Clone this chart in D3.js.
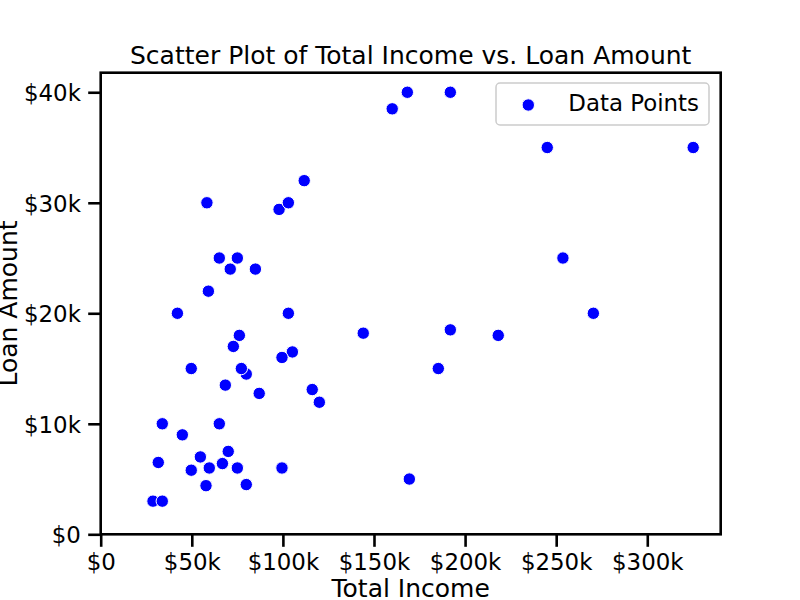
<!DOCTYPE html>
<html>
<head>
<meta charset="utf-8">
<script src="https://cdn.jsdelivr.net/npm/d3@7"></script>
<style>
  html, body { margin: 0; padding: 0; background: #fff; }
  svg { display: block; font-family: "DejaVu Sans", sans-serif; }
</style>
</head>
<body>
<svg id="chart" width="800" height="600"></svg>
<script>
// Data (thousands of dollars)
const totalIncome = [168.3, 160, 111.7, 58.3, 97.9, 103, 65.1, 75, 71.1, 84.9, 59.1, 42.1, 103, 144.1, 76.1, 72.8, 105.2, 99.5, 49.7, 79.9, 77.2, 68.4, 87, 116.1, 120, 33.8, 65.1, 44.8, 70, 54.7, 31.6, 66.8, 49.7, 59.6, 75, 99.5, 57.8, 79.9, 169.4, 28.7, 33.8, 191.9, 245.1, 325.2, 253.7, 270.4, 191.9, 218.2, 185.3];
const loanAmount  = [40, 38.5, 32, 30, 29.4, 30, 25, 25, 24, 24, 22, 20, 20, 18.2, 18, 17, 16.5, 16, 15, 14.5, 15, 13.5, 12.75, 13.1, 11.95, 10, 10, 9, 7.5, 7, 6.5, 6.4, 5.8, 6, 6, 6, 4.4, 4.5, 5, 3, 3, 40, 35, 35, 25, 20, 18.5, 18, 15];
const xTicks = [0, 50, 100, 150, 200, 250, 300];
const yTicks = [0, 10, 20, 30, 40];
const titleText = "Scatter Plot of Total Income vs. Loan Amount";
const xLabel = "Total Income";
const yLabel = "Loan Amount";
const legendLabel = "Data Points";

const svg = d3.select("#chart");
const L = 100.7, R = 720.7, T = 72.7, B = 534.3;
const x = d3.scaleLinear().domain([0, 340.3]).range([L, R]);
const y = d3.scaleLinear().domain([0, 41.77]).range([B, T]);
const fmt = v => v === 0 ? "$0" : "$" + v + "k";

const pts = totalIncome.map((v, i) => ({x: v, y: loanAmount[i]}));

// points
svg.append("g").selectAll("circle").data(pts).join("circle")
  .attr("cx", d => x(d.x)).attr("cy", d => y(d.y)).attr("r", 6.2)
  .attr("fill", "#0000ff").attr("stroke", "#ffffff").attr("stroke-width", 1);

// axes
const xAxis = svg.append("g").attr("transform", `translate(0,${B})`)
  .call(d3.axisBottom(x).tickValues(xTicks).tickFormat(fmt).tickSize(12.5).tickPadding(7).tickSizeOuter(0));
const yAxis = svg.append("g").attr("transform", `translate(${L},0)`)
  .call(d3.axisLeft(y).tickValues(yTicks).tickFormat(fmt).tickSize(12.5).tickPadding(7.3).tickSizeOuter(0));
[xAxis, yAxis].forEach(g => {
  g.select(".domain").remove();
  g.selectAll(".tick line").attr("stroke", "#000").attr("stroke-width", 2.6);
  g.selectAll(".tick text").attr("fill", "#000").style("font-size", "22.9px")
    .style("font-family", "'DejaVu Sans', sans-serif");
});
xAxis.selectAll(".tick text").attr("dy", null).attr("y", 36);
yAxis.selectAll(".tick text").attr("dy", "0.36em");

// frame
svg.append("rect").attr("x", L).attr("y", T).attr("width", R - L).attr("height", B - T)
  .attr("fill", "none").attr("stroke", "#000").attr("stroke-width", 2.6);

// labels
svg.append("text").attr("x", (L + R) / 2).attr("y", 63.5).attr("text-anchor", "middle")
  .style("font-size", "25px").text(titleText);
svg.append("text").attr("x", (L + R) / 2).attr("y", 597).attr("text-anchor", "middle")
  .style("font-size", "25px").text(xLabel);
svg.append("text").attr("transform", `translate(16.5,${(T + B) / 2}) rotate(-90)`)
  .attr("text-anchor", "middle").style("font-size", "25px").text(yLabel);

// legend
const lg = svg.append("g");
lg.append("rect").attr("x", 496).attr("y", 83).attr("width", 213).attr("height", 42)
  .attr("rx", 4).attr("fill", "#fff").attr("fill-opacity", 0.8)
  .attr("stroke", "#cccccc").attr("stroke-width", 1.5);
lg.append("circle").attr("cx", 528.3).attr("cy", 105).attr("r", 6.2)
  .attr("fill", "#0000ff").attr("stroke", "#fff").attr("stroke-width", 1);
lg.append("text").attr("x", 699).attr("y", 111).attr("text-anchor", "end")
  .style("font-size", "22.9px").text(legendLabel);
</script>
</body>
</html>
